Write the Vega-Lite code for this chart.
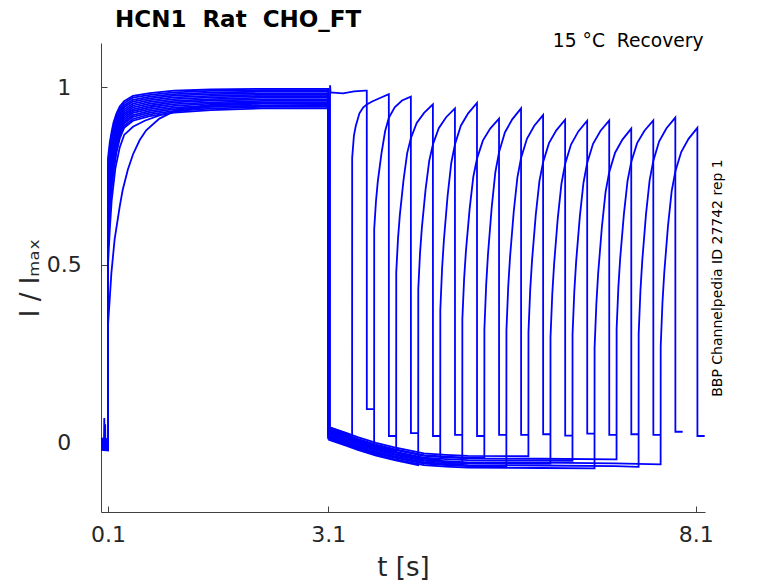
{
"$schema":"https://vega.github.io/schema/vega-lite/v6.json",
"autosize":{"type":"none"},
"padding":{"left":101,"top":43,"right":73,"bottom":71},
"width":604,"height":469,
"background":"white",
"config":{"view":{"stroke":null},"font":"DejaVu Sans"},
"title":{"text":"HCN1\u00a0 Rat\u00a0 CHO_FT","anchor":"start","frame":"group","font":"DejaVu Sans","fontSize":23,"fontWeight":"bold","color":"#000000","baseline":"alphabetic","offset":5,"dx":14,"dy":24},
"datasets":{
"act":[
{"s":0,"t":0.005,"i":-0.01},{"s":0,"t":0.1,"i":-0.012},{"s":0,"t":0.1005,"i":0.8},{"s":0,"t":0.125,"i":0.845},{"s":0,"t":0.15,"i":0.875},{"s":0,"t":0.175,"i":0.9},{"s":0,"t":0.215,"i":0.925},{"s":0,"t":0.26,"i":0.945},{"s":0,"t":0.32,"i":0.96},{"s":0,"t":0.44,"i":0.975},{"s":0,"t":0.67,"i":0.983},{"s":0,"t":1.0,"i":0.99},{"s":0,"t":1.5,"i":0.993},{"s":0,"t":2.2,"i":0.995},{"s":0,"t":3.1,"i":0.995},{"s":0,"t":3.1001,"i":0.03},
{"s":1,"t":0.005,"i":0.0},{"s":1,"t":0.1,"i":-0.002},{"s":1,"t":0.1005,"i":0.782},{"s":1,"t":0.125,"i":0.831},{"s":1,"t":0.15,"i":0.863},{"s":1,"t":0.175,"i":0.889},{"s":1,"t":0.215,"i":0.917},{"s":1,"t":0.26,"i":0.938},{"s":1,"t":0.32,"i":0.954},{"s":1,"t":0.44,"i":0.97},{"s":1,"t":0.67,"i":0.978},{"s":1,"t":1.0,"i":0.985},{"s":1,"t":1.5,"i":0.989},{"s":1,"t":2.2,"i":0.991},{"s":1,"t":3.1,"i":0.991},{"s":1,"t":3.1001,"i":0.042},
{"s":2,"t":0.005,"i":-0.015},{"s":2,"t":0.1,"i":-0.017},{"s":2,"t":0.1005,"i":0.763},{"s":2,"t":0.125,"i":0.817},{"s":2,"t":0.15,"i":0.85},{"s":2,"t":0.175,"i":0.878},{"s":2,"t":0.215,"i":0.908},{"s":2,"t":0.26,"i":0.931},{"s":2,"t":0.32,"i":0.948},{"s":2,"t":0.44,"i":0.964},{"s":2,"t":0.67,"i":0.973},{"s":2,"t":1.0,"i":0.98},{"s":2,"t":1.5,"i":0.984},{"s":2,"t":2.2,"i":0.987},{"s":2,"t":3.1,"i":0.987},{"s":2,"t":3.1001,"i":0.011},
{"s":3,"t":0.005,"i":0.005},{"s":3,"t":0.1,"i":0.003},{"s":3,"t":0.1005,"i":0.745},{"s":3,"t":0.125,"i":0.803},{"s":3,"t":0.15,"i":0.838},{"s":3,"t":0.175,"i":0.868},{"s":3,"t":0.215,"i":0.9},{"s":3,"t":0.26,"i":0.924},{"s":3,"t":0.32,"i":0.943},{"s":3,"t":0.44,"i":0.959},{"s":3,"t":0.67,"i":0.968},{"s":3,"t":1.0,"i":0.976},{"s":3,"t":1.5,"i":0.98},{"s":3,"t":2.2,"i":0.982},{"s":3,"t":3.1,"i":0.982},{"s":3,"t":3.1001,"i":0.033},
{"s":4,"t":0.005,"i":-0.02},{"s":4,"t":0.1,"i":-0.022},{"s":4,"t":0.1005,"i":0.726},{"s":4,"t":0.125,"i":0.79},{"s":4,"t":0.15,"i":0.826},{"s":4,"t":0.175,"i":0.857},{"s":4,"t":0.215,"i":0.891},{"s":4,"t":0.26,"i":0.917},{"s":4,"t":0.32,"i":0.937},{"s":4,"t":0.44,"i":0.953},{"s":4,"t":0.67,"i":0.963},{"s":4,"t":1.0,"i":0.971},{"s":4,"t":1.5,"i":0.975},{"s":4,"t":2.2,"i":0.978},{"s":4,"t":3.1,"i":0.978},{"s":4,"t":3.1001,"i":0.007},
{"s":5,"t":0.005,"i":-0.005},{"s":5,"t":0.045,"i":-0.005},{"s":5,"t":0.05,"i":0.068},{"s":5,"t":0.055,"i":-0.006},{"s":5,"t":0.1,"i":-0.007},{"s":5,"t":0.1005,"i":0.708},{"s":5,"t":0.125,"i":0.776},{"s":5,"t":0.15,"i":0.813},{"s":5,"t":0.175,"i":0.846},{"s":5,"t":0.215,"i":0.883},{"s":5,"t":0.26,"i":0.91},{"s":5,"t":0.32,"i":0.931},{"s":5,"t":0.44,"i":0.948},{"s":5,"t":0.67,"i":0.958},{"s":5,"t":1.0,"i":0.966},{"s":5,"t":1.5,"i":0.971},{"s":5,"t":2.2,"i":0.974},{"s":5,"t":3.1,"i":0.974},{"s":5,"t":3.1001,"i":0.028},
{"s":6,"t":0.005,"i":0.01},{"s":6,"t":0.1,"i":0.008},{"s":6,"t":0.1005,"i":0.689},{"s":6,"t":0.125,"i":0.762},{"s":6,"t":0.15,"i":0.801},{"s":6,"t":0.175,"i":0.835},{"s":6,"t":0.215,"i":0.874},{"s":6,"t":0.26,"i":0.903},{"s":6,"t":0.32,"i":0.925},{"s":6,"t":0.44,"i":0.943},{"s":6,"t":0.67,"i":0.953},{"s":6,"t":1.0,"i":0.961},{"s":6,"t":1.5,"i":0.966},{"s":6,"t":2.2,"i":0.97},{"s":6,"t":3.1,"i":0.97},{"s":6,"t":3.1001,"i":0.018},
{"s":7,"t":0.005,"i":-0.012},{"s":7,"t":0.1,"i":-0.014},{"s":7,"t":0.1005,"i":0.5},{"s":7,"t":0.125,"i":0.6},{"s":7,"t":0.15,"i":0.68},{"s":7,"t":0.2,"i":0.77},{"s":7,"t":0.26,"i":0.83},{"s":7,"t":0.32,"i":0.865},{"s":7,"t":0.44,"i":0.888},{"s":7,"t":0.6,"i":0.905},{"s":7,"t":0.8,"i":0.92},{"s":7,"t":1.0,"i":0.93},{"s":7,"t":1.5,"i":0.945},{"s":7,"t":3.1,"i":0.95},{"s":7,"t":3.1001,"i":0.038},
{"s":8,"t":0.005,"i":-0.003},{"s":8,"t":0.1,"i":-0.005},{"s":8,"t":0.1005,"i":0.671},{"s":8,"t":0.125,"i":0.748},{"s":8,"t":0.15,"i":0.789},{"s":8,"t":0.175,"i":0.825},{"s":8,"t":0.215,"i":0.866},{"s":8,"t":0.26,"i":0.897},{"s":8,"t":0.32,"i":0.92},{"s":8,"t":0.44,"i":0.937},{"s":8,"t":0.67,"i":0.948},{"s":8,"t":1.0,"i":0.957},{"s":8,"t":1.5,"i":0.962},{"s":8,"t":2.2,"i":0.965},{"s":8,"t":3.1,"i":0.965},{"s":8,"t":3.1001,"i":0.014},
{"s":9,"t":0.005,"i":-0.018},{"s":9,"t":0.058,"i":-0.018},{"s":9,"t":0.062,"i":0.05},{"s":9,"t":0.066,"i":-0.016},{"s":9,"t":0.1,"i":-0.02},{"s":9,"t":0.1005,"i":0.652},{"s":9,"t":0.125,"i":0.734},{"s":9,"t":0.15,"i":0.777},{"s":9,"t":0.175,"i":0.814},{"s":9,"t":0.215,"i":0.857},{"s":9,"t":0.26,"i":0.89},{"s":9,"t":0.32,"i":0.914},{"s":9,"t":0.44,"i":0.932},{"s":9,"t":0.67,"i":0.943},{"s":9,"t":1.0,"i":0.952},{"s":9,"t":1.5,"i":0.957},{"s":9,"t":2.2,"i":0.961},{"s":9,"t":3.1,"i":0.961},{"s":9,"t":3.1001,"i":0.043},
{"s":10,"t":0.005,"i":0.002},{"s":10,"t":0.1,"i":0.0},{"s":10,"t":0.1005,"i":0.634},{"s":10,"t":0.125,"i":0.72},{"s":10,"t":0.15,"i":0.764},{"s":10,"t":0.175,"i":0.803},{"s":10,"t":0.215,"i":0.849},{"s":10,"t":0.26,"i":0.883},{"s":10,"t":0.32,"i":0.908},{"s":10,"t":0.44,"i":0.927},{"s":10,"t":0.67,"i":0.938},{"s":10,"t":1.0,"i":0.947},{"s":10,"t":1.5,"i":0.953},{"s":10,"t":2.2,"i":0.957},{"s":10,"t":3.1,"i":0.957},{"s":10,"t":3.1001,"i":0.022},
{"s":11,"t":0.005,"i":-0.008},{"s":11,"t":0.1,"i":-0.01},{"s":11,"t":0.1005,"i":0.615},{"s":11,"t":0.125,"i":0.707},{"s":11,"t":0.15,"i":0.752},{"s":11,"t":0.175,"i":0.792},{"s":11,"t":0.215,"i":0.84},{"s":11,"t":0.26,"i":0.876},{"s":11,"t":0.32,"i":0.902},{"s":11,"t":0.44,"i":0.921},{"s":11,"t":0.67,"i":0.933},{"s":11,"t":1.0,"i":0.942},{"s":11,"t":1.5,"i":0.948},{"s":11,"t":2.2,"i":0.953},{"s":11,"t":3.1,"i":0.953},{"s":11,"t":3.1001,"i":0.031},
{"s":12,"t":0.005,"i":-0.022},{"s":12,"t":0.1,"i":-0.024},{"s":12,"t":0.1005,"i":0.33},{"s":12,"t":0.123,"i":0.4},{"s":12,"t":0.146,"i":0.475},{"s":12,"t":0.19,"i":0.57},{"s":12,"t":0.26,"i":0.664},{"s":12,"t":0.3,"i":0.71},{"s":12,"t":0.37,"i":0.767},{"s":12,"t":0.44,"i":0.81},{"s":12,"t":0.53,"i":0.85},{"s":12,"t":0.62,"i":0.878},{"s":12,"t":0.8,"i":0.911},{"s":12,"t":1.03,"i":0.935},{"s":12,"t":1.5,"i":0.95},{"s":12,"t":2.2,"i":0.955},{"s":12,"t":3.1,"i":0.955},{"s":12,"t":3.1001,"i":0.01},
{"s":13,"t":0.005,"i":0.008},{"s":13,"t":0.1,"i":0.006},{"s":13,"t":0.1005,"i":0.597},{"s":13,"t":0.125,"i":0.693},{"s":13,"t":0.15,"i":0.74},{"s":13,"t":0.175,"i":0.782},{"s":13,"t":0.215,"i":0.832},{"s":13,"t":0.26,"i":0.869},{"s":13,"t":0.32,"i":0.897},{"s":13,"t":0.44,"i":0.916},{"s":13,"t":0.67,"i":0.928},{"s":13,"t":1.0,"i":0.938},{"s":13,"t":1.5,"i":0.944},{"s":13,"t":2.2,"i":0.948},{"s":13,"t":3.1,"i":0.948},{"s":13,"t":3.1001,"i":0.036},
{"s":14,"t":0.005,"i":-0.01},{"s":14,"t":0.1,"i":-0.012},{"s":14,"t":0.1005,"i":0.578},{"s":14,"t":0.125,"i":0.679},{"s":14,"t":0.15,"i":0.727},{"s":14,"t":0.175,"i":0.771},{"s":14,"t":0.215,"i":0.823},{"s":14,"t":0.26,"i":0.862},{"s":14,"t":0.32,"i":0.891},{"s":14,"t":0.44,"i":0.91},{"s":14,"t":0.67,"i":0.923},{"s":14,"t":1.0,"i":0.933},{"s":14,"t":1.5,"i":0.939},{"s":14,"t":2.2,"i":0.944},{"s":14,"t":3.1,"i":0.944},{"s":14,"t":3.1001,"i":0.017},
{"s":15,"t":0.005,"i":-0.004},{"s":15,"t":0.1,"i":-0.006},{"s":15,"t":0.1005,"i":0.56},{"s":15,"t":0.125,"i":0.665},{"s":15,"t":0.15,"i":0.715},{"s":15,"t":0.175,"i":0.76},{"s":15,"t":0.215,"i":0.815},{"s":15,"t":0.26,"i":0.855},{"s":15,"t":0.32,"i":0.885},{"s":15,"t":0.44,"i":0.905},{"s":15,"t":0.67,"i":0.918},{"s":15,"t":1.0,"i":0.928},{"s":15,"t":1.5,"i":0.935},{"s":15,"t":2.2,"i":0.94},{"s":15,"t":3.1,"i":0.94},{"s":15,"t":3.1001,"i":0.025}
],
"rec":[
{"s":0,"t":3.1001,"i":0.03},{"s":0,"t":3.1225,"i":0.028},{"s":0,"t":3.123,"i":1.005},{"s":0,"t":3.13,"i":0.985},{"s":0,"t":3.3,"i":0.982},{"s":0,"t":3.45,"i":0.988},{"s":0,"t":3.6,"i":0.99},{"s":0,"t":3.623,"i":0.99},{"s":0,"t":3.6235,"i":0.093},{"s":0,"t":3.72,"i":0.093},
{"s":1,"t":3.1001,"i":0.042},{"s":1,"t":3.2,"i":0.035},{"s":1,"t":3.35,"i":0.024},{"s":1,"t":3.423,"i":0.019},{"s":1,"t":3.424,"i":0.8},{"s":1,"t":3.448,"i":0.863},{"s":1,"t":3.473,"i":0.89},{"s":1,"t":3.523,"i":0.926},{"s":1,"t":3.573,"i":0.942},{"s":1,"t":3.623,"i":0.951},{"s":1,"t":3.703,"i":0.96},{"s":1,"t":3.803,"i":0.969},{"s":1,"t":3.923,"i":0.98},{"s":1,"t":3.924,"i":0.017},{"s":1,"t":4.023,"i":0.017},
{"s":2,"t":3.1001,"i":0.011},{"s":2,"t":3.2,"i":0.004},{"s":2,"t":3.35,"i":-0.007},{"s":2,"t":3.5,"i":-0.018},{"s":2,"t":3.723,"i":-0.032},{"s":2,"t":3.724,"i":0.6},{"s":2,"t":3.748,"i":0.678},{"s":2,"t":3.773,"i":0.734},{"s":2,"t":3.823,"i":0.813},{"s":2,"t":3.873,"i":0.876},{"s":2,"t":3.923,"i":0.913},{"s":2,"t":4.003,"i":0.943},{"s":2,"t":4.103,"i":0.962},{"s":2,"t":4.223,"i":0.973},{"s":2,"t":4.224,"i":0.025},{"s":2,"t":4.323,"i":0.025},
{"s":3,"t":3.1001,"i":0.033},{"s":3,"t":3.2,"i":0.026},{"s":3,"t":3.35,"i":0.015},{"s":3,"t":3.5,"i":0.004},{"s":3,"t":3.75,"i":-0.012},{"s":3,"t":4.023,"i":-0.026},{"s":3,"t":4.024,"i":0.478},{"s":3,"t":4.048,"i":0.573},{"s":3,"t":4.073,"i":0.639},{"s":3,"t":4.123,"i":0.738},{"s":3,"t":4.173,"i":0.814},{"s":3,"t":4.223,"i":0.856},{"s":3,"t":4.303,"i":0.899},{"s":3,"t":4.403,"i":0.927},{"s":3,"t":4.523,"i":0.951},{"s":3,"t":4.524,"i":0.017},{"s":3,"t":4.623,"i":0.017},
{"s":4,"t":3.1001,"i":0.007},{"s":4,"t":3.2,"i":0.0},{"s":4,"t":3.35,"i":-0.011},{"s":4,"t":3.5,"i":-0.022},{"s":4,"t":3.75,"i":-0.038},{"s":4,"t":4.0,"i":-0.051},{"s":4,"t":4.323,"i":-0.065},{"s":4,"t":4.324,"i":0.431},{"s":4,"t":4.348,"i":0.533},{"s":4,"t":4.373,"i":0.604},{"s":4,"t":4.423,"i":0.711},{"s":4,"t":4.473,"i":0.792},{"s":4,"t":4.523,"i":0.838},{"s":4,"t":4.603,"i":0.884},{"s":4,"t":4.703,"i":0.915},{"s":4,"t":4.823,"i":0.94},{"s":4,"t":4.824,"i":0.02},{"s":4,"t":4.923,"i":0.02},
{"s":5,"t":3.1001,"i":0.028},{"s":5,"t":3.2,"i":0.021},{"s":5,"t":3.35,"i":0.01},{"s":5,"t":3.5,"i":-0.001},{"s":5,"t":3.75,"i":-0.017},{"s":5,"t":4.0,"i":-0.03},{"s":5,"t":4.4,"i":-0.047},{"s":5,"t":4.623,"i":-0.049},{"s":5,"t":4.624,"i":0.372},{"s":5,"t":4.648,"i":0.489},{"s":5,"t":4.673,"i":0.57},{"s":5,"t":4.723,"i":0.693},{"s":5,"t":4.773,"i":0.786},{"s":5,"t":4.823,"i":0.838},{"s":5,"t":4.903,"i":0.891},{"s":5,"t":5.003,"i":0.926},{"s":5,"t":5.123,"i":0.955},{"s":5,"t":5.124,"i":0.017},{"s":5,"t":5.223,"i":0.017},
{"s":6,"t":3.1001,"i":0.018},{"s":6,"t":3.2,"i":0.011},{"s":6,"t":3.35,"i":0.0},{"s":6,"t":3.5,"i":-0.011},{"s":6,"t":3.75,"i":-0.027},{"s":6,"t":4.0,"i":-0.04},{"s":6,"t":4.4,"i":-0.057},{"s":6,"t":4.7,"i":-0.061},{"s":6,"t":4.923,"i":-0.063},{"s":6,"t":4.924,"i":0.347},{"s":6,"t":4.948,"i":0.46},{"s":6,"t":4.973,"i":0.539},{"s":6,"t":5.023,"i":0.657},{"s":6,"t":5.073,"i":0.747},{"s":6,"t":5.123,"i":0.798},{"s":6,"t":5.203,"i":0.849},{"s":6,"t":5.303,"i":0.883},{"s":6,"t":5.423,"i":0.911},{"s":6,"t":5.424,"i":0.02},{"s":6,"t":5.523,"i":0.02},
{"s":7,"t":3.1001,"i":0.038},{"s":7,"t":3.2,"i":0.031},{"s":7,"t":3.35,"i":0.02},{"s":7,"t":3.5,"i":0.009},{"s":7,"t":3.75,"i":-0.007},{"s":7,"t":4.0,"i":-0.02},{"s":7,"t":4.4,"i":-0.037},{"s":7,"t":4.7,"i":-0.041},{"s":7,"t":5.0,"i":-0.044},{"s":7,"t":5.223,"i":-0.044},{"s":7,"t":5.224,"i":0.318},{"s":7,"t":5.248,"i":0.442},{"s":7,"t":5.273,"i":0.529},{"s":7,"t":5.323,"i":0.66},{"s":7,"t":5.373,"i":0.76},{"s":7,"t":5.423,"i":0.816},{"s":7,"t":5.503,"i":0.872},{"s":7,"t":5.603,"i":0.909},{"s":7,"t":5.723,"i":0.94},{"s":7,"t":5.724,"i":0.02},{"s":7,"t":5.823,"i":0.02},
{"s":8,"t":3.1001,"i":0.014},{"s":8,"t":3.2,"i":0.007},{"s":8,"t":3.35,"i":-0.004},{"s":8,"t":3.5,"i":-0.015},{"s":8,"t":3.75,"i":-0.031},{"s":8,"t":4.0,"i":-0.044},{"s":8,"t":4.4,"i":-0.061},{"s":8,"t":4.7,"i":-0.065},{"s":8,"t":5.0,"i":-0.068},{"s":8,"t":5.523,"i":-0.068},{"s":8,"t":5.524,"i":0.315},{"s":8,"t":5.548,"i":0.436},{"s":8,"t":5.573,"i":0.521},{"s":8,"t":5.623,"i":0.648},{"s":8,"t":5.673,"i":0.745},{"s":8,"t":5.723,"i":0.8},{"s":8,"t":5.803,"i":0.854},{"s":8,"t":5.903,"i":0.891},{"s":8,"t":6.023,"i":0.921},{"s":8,"t":6.024,"i":0.022},{"s":8,"t":6.123,"i":0.022},
{"s":9,"t":3.1001,"i":0.043},{"s":9,"t":3.2,"i":0.036},{"s":9,"t":3.35,"i":0.025},{"s":9,"t":3.5,"i":0.014},{"s":9,"t":3.75,"i":-0.002},{"s":9,"t":4.0,"i":-0.015},{"s":9,"t":4.4,"i":-0.032},{"s":9,"t":4.7,"i":-0.036},{"s":9,"t":5.0,"i":-0.039},{"s":9,"t":5.823,"i":-0.04},{"s":9,"t":5.824,"i":0.31},{"s":9,"t":5.848,"i":0.43},{"s":9,"t":5.873,"i":0.513},{"s":9,"t":5.923,"i":0.639},{"s":9,"t":5.973,"i":0.735},{"s":9,"t":6.023,"i":0.788},{"s":9,"t":6.103,"i":0.842},{"s":9,"t":6.203,"i":0.878},{"s":9,"t":6.323,"i":0.908},{"s":9,"t":6.324,"i":0.018},{"s":9,"t":6.423,"i":0.018},
{"s":10,"t":3.1001,"i":0.022},{"s":10,"t":3.2,"i":0.015},{"s":10,"t":3.35,"i":0.004},{"s":10,"t":3.5,"i":-0.007},{"s":10,"t":3.75,"i":-0.023},{"s":10,"t":4.0,"i":-0.036},{"s":10,"t":4.4,"i":-0.053},{"s":10,"t":4.7,"i":-0.057},{"s":10,"t":5.0,"i":-0.06},{"s":10,"t":6.0,"i":-0.061},{"s":10,"t":6.123,"i":-0.061},{"s":10,"t":6.124,"i":0.295},{"s":10,"t":6.148,"i":0.417},{"s":10,"t":6.173,"i":0.502},{"s":10,"t":6.223,"i":0.631},{"s":10,"t":6.273,"i":0.728},{"s":10,"t":6.323,"i":0.783},{"s":10,"t":6.403,"i":0.838},{"s":10,"t":6.503,"i":0.875},{"s":10,"t":6.623,"i":0.905},{"s":10,"t":6.624,"i":0.024},{"s":10,"t":6.723,"i":0.024},
{"s":11,"t":3.1001,"i":0.031},{"s":11,"t":3.2,"i":0.024},{"s":11,"t":3.35,"i":0.013},{"s":11,"t":3.5,"i":0.002},{"s":11,"t":3.75,"i":-0.014},{"s":11,"t":4.0,"i":-0.027},{"s":11,"t":4.4,"i":-0.044},{"s":11,"t":4.7,"i":-0.048},{"s":11,"t":5.0,"i":-0.051},{"s":11,"t":6.0,"i":-0.052},{"s":11,"t":6.423,"i":-0.053},{"s":11,"t":6.424,"i":0.304},{"s":11,"t":6.448,"i":0.424},{"s":11,"t":6.473,"i":0.509},{"s":11,"t":6.523,"i":0.635},{"s":11,"t":6.573,"i":0.731},{"s":11,"t":6.623,"i":0.786},{"s":11,"t":6.703,"i":0.84},{"s":11,"t":6.803,"i":0.876},{"s":11,"t":6.923,"i":0.906},{"s":11,"t":6.924,"i":0.02},{"s":11,"t":7.023,"i":0.02},
{"s":12,"t":3.1001,"i":0.01},{"s":12,"t":3.2,"i":0.003},{"s":12,"t":3.35,"i":-0.008},{"s":12,"t":3.5,"i":-0.019},{"s":12,"t":3.75,"i":-0.035},{"s":12,"t":4.0,"i":-0.048},{"s":12,"t":4.4,"i":-0.065},{"s":12,"t":4.7,"i":-0.069},{"s":12,"t":5.0,"i":-0.072},{"s":12,"t":6.0,"i":-0.073},{"s":12,"t":6.723,"i":-0.074},{"s":12,"t":6.724,"i":0.266},{"s":12,"t":6.748,"i":0.389},{"s":12,"t":6.773,"i":0.476},{"s":12,"t":6.823,"i":0.605},{"s":12,"t":6.873,"i":0.704},{"s":12,"t":6.923,"i":0.76},{"s":12,"t":7.003,"i":0.815},{"s":12,"t":7.103,"i":0.852},{"s":12,"t":7.223,"i":0.883},{"s":12,"t":7.224,"i":0.022},{"s":12,"t":7.323,"i":0.022},
{"s":13,"t":3.1001,"i":0.036},{"s":13,"t":3.2,"i":0.029},{"s":13,"t":3.35,"i":0.018},{"s":13,"t":3.5,"i":0.007},{"s":13,"t":3.75,"i":-0.009},{"s":13,"t":4.0,"i":-0.022},{"s":13,"t":4.4,"i":-0.039},{"s":13,"t":4.7,"i":-0.043},{"s":13,"t":5.0,"i":-0.046},{"s":13,"t":6.0,"i":-0.047},{"s":13,"t":7.0,"i":-0.049},{"s":13,"t":7.023,"i":-0.049},{"s":13,"t":7.024,"i":0.32},{"s":13,"t":7.048,"i":0.437},{"s":13,"t":7.073,"i":0.519},{"s":13,"t":7.123,"i":0.642},{"s":13,"t":7.173,"i":0.736},{"s":13,"t":7.223,"i":0.789},{"s":13,"t":7.303,"i":0.842},{"s":13,"t":7.403,"i":0.877},{"s":13,"t":7.523,"i":0.906},{"s":13,"t":7.524,"i":0.02},{"s":13,"t":7.623,"i":0.02},
{"s":14,"t":3.1001,"i":0.017},{"s":14,"t":3.2,"i":0.01},{"s":14,"t":3.35,"i":-0.001},{"s":14,"t":3.5,"i":-0.012},{"s":14,"t":3.75,"i":-0.028},{"s":14,"t":4.0,"i":-0.041},{"s":14,"t":4.4,"i":-0.058},{"s":14,"t":4.7,"i":-0.062},{"s":14,"t":5.0,"i":-0.065},{"s":14,"t":6.0,"i":-0.066},{"s":14,"t":7.0,"i":-0.068},{"s":14,"t":7.323,"i":-0.07},{"s":14,"t":7.324,"i":0.304},{"s":14,"t":7.348,"i":0.426},{"s":14,"t":7.373,"i":0.511},{"s":14,"t":7.423,"i":0.64},{"s":14,"t":7.473,"i":0.737},{"s":14,"t":7.523,"i":0.792},{"s":14,"t":7.603,"i":0.847},{"s":14,"t":7.703,"i":0.884},{"s":14,"t":7.823,"i":0.914},{"s":14,"t":7.824,"i":0.029},{"s":14,"t":7.923,"i":0.029},
{"s":15,"t":3.1001,"i":0.025},{"s":15,"t":3.2,"i":0.018},{"s":15,"t":3.35,"i":0.007},{"s":15,"t":3.5,"i":-0.004},{"s":15,"t":3.75,"i":-0.02},{"s":15,"t":4.0,"i":-0.033},{"s":15,"t":4.4,"i":-0.05},{"s":15,"t":4.7,"i":-0.054},{"s":15,"t":5.0,"i":-0.057},{"s":15,"t":6.0,"i":-0.058},{"s":15,"t":7.0,"i":-0.06},{"s":15,"t":7.623,"i":-0.063},{"s":15,"t":7.624,"i":0.27},{"s":15,"t":7.648,"i":0.393},{"s":15,"t":7.673,"i":0.479},{"s":15,"t":7.723,"i":0.608},{"s":15,"t":7.773,"i":0.706},{"s":15,"t":7.823,"i":0.762},{"s":15,"t":7.903,"i":0.817},{"s":15,"t":8.003,"i":0.854},{"s":15,"t":8.123,"i":0.885},{"s":15,"t":8.124,"i":0.017},{"s":15,"t":8.223,"i":0.017}
]
},
"layer":[
{
"data":{"name":"act"},
"mark":{"type":"line","color":"#0000ff","strokeWidth":1.8,"clip":true},
"encoding":{
"x":{"field":"t","type":"quantitative","scale":{"domain":[0.005,8.227],"nice":false,"zero":false},
"axis":{"orient":"bottom","values":[0.1,3.1,8.1],"format":".2~g","grid":false,"tickSize":-6,"tickColor":"#404040","domainColor":"#404040","labelPadding":35.4,"labelBaseline":"alphabetic","labelAlign":"center","labelFlush":false,"labelFont":"DejaVu Sans","labelFontSize":22,"labelColor":"#262626","title":"t [s]","titleFont":"DejaVu Sans","titleFontSize":26,"titleFontWeight":"normal","titleColor":"#262626","titleBaseline":"alphabetic","titleAlign":"center","titleX":302,"titleY":63}},
"y":{"field":"i","type":"quantitative","scale":{"domain":[-0.197,1.124],"nice":false,"zero":false},
"axis":{"orient":"left","values":[0,0.5,1],"format":".2~g","grid":false,"tickSize":-6,"tickColor":"#404040","domainColor":"#404040","labelPadding":43.3,"labelBaseline":"middle","labelAlign":"center","labelFlush":false,"labelFont":"DejaVu Sans","labelFontSize":22,"labelColor":"#262626","title":"I / Iₘₐₓ","titleFont":"DejaVu Sans","titleFontSize":26,"titleFontWeight":"normal","titleColor":"#262626","titleAngle":270,"titleBaseline":"alphabetic","titleAlign":"center","titleX":-63,"titleY":234.5}},
"detail":{"field":"s","type":"nominal"}
}
},
{
"data":{"name":"rec"},
"mark":{"type":"line","color":"#0000ff","strokeWidth":1.8,"clip":true},
"encoding":{
"x":{"field":"t","type":"quantitative","scale":{"domain":[0.005,8.227],"nice":false,"zero":false},
"axis":{"orient":"top","domain":false,"ticks":false,"labels":false,"grid":false,"title":"15 °C\u00a0 Recovery","titleFont":"DejaVu Sans","titleFontSize":18.7,"titleFontWeight":"normal","titleColor":"#000000","titleAlign":"right","titleBaseline":"alphabetic","titleX":602,"titleY":3.4}},
"y":{"field":"i","type":"quantitative","scale":{"domain":[-0.197,1.124],"nice":false,"zero":false},
"axis":{"orient":"right","domain":false,"ticks":false,"labels":false,"grid":false,"title":"BBP Channelpedia ID 27742 rep 1","titleFont":"DejaVu Sans","titleFontSize":14,"titleFontWeight":"normal","titleColor":"#000000","titleAngle":270,"titleAlign":"center","titleBaseline":"middle","titleX":12,"titleY":234.5}},
"detail":{"field":"s","type":"nominal"}
}
}
],
"resolve":{"axis":{"x":"independent","y":"independent"}}
}
